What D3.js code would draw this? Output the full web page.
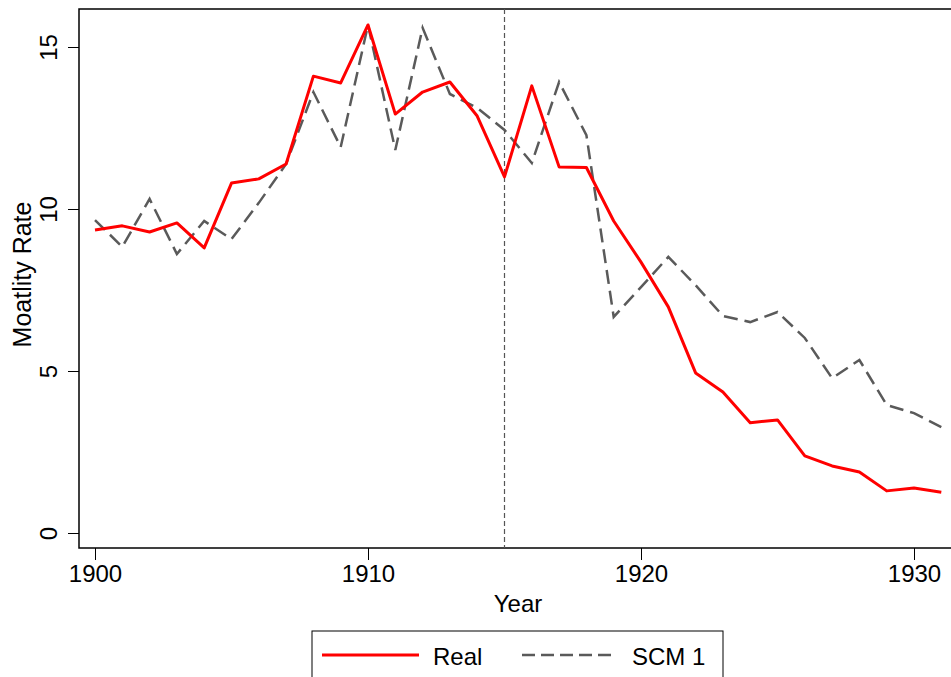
<!DOCTYPE html>
<html>
<head>
<meta charset="utf-8">
<script src="https://cdn.jsdelivr.net/npm/d3@7"></script>
<style>
  html, body { margin: 0; padding: 0; background: #fff; }
  svg { display: block; font-family: "Liberation Sans", Arial, sans-serif; }
</style>
</head>
<body>
<svg id="chart" width="951" height="677"></svg>
<script>
// Years covered by both series
const years = d3.range(1900, 1932);

// Observed mortality rate
const realValues = [
  9.35, 9.48, 9.29, 9.57, 8.80, 10.80, 10.93, 11.39, 14.10, 13.89,
  15.68, 12.93, 13.61, 13.92, 12.87, 10.99, 13.80, 11.30, 11.28, 9.63,
  8.36, 6.98, 4.94, 4.35, 3.40, 3.49, 2.38, 2.07, 1.88, 1.30,
  1.39, 1.26
];

// Synthetic control estimate
const scmValues = [
  9.66, 8.83, 10.31, 8.61, 9.63, 9.07, 10.19, 11.39, 13.61, 11.91,
  15.68, 11.82, 15.59, 13.55, 13.12, 12.44, 11.42, 13.92, 12.28, 6.67,
  7.59, 8.52, 7.65, 6.70, 6.51, 6.82, 6.02, 4.78, 5.34, 3.95,
  3.70, 3.27
];

const xTicks = [1900, 1910, 1920, 1930];
const yTicks = [0, 5, 10, 15];
const treatmentYear = 1915;
const seriesNames = ["Real", "SCM 1"];

const svg = d3.select("#chart");

const x = d3.scaleLinear().domain([1900, 1930]).range([95, 914]);
const y = d3.scaleLinear().domain([0, 15]).range([533, 47]);

const plotLeft = 79, plotTop = 9, plotBottom = 548, plotRight = 960;

svg.append("defs").append("clipPath").attr("id", "plotClip")
  .append("rect")
  .attr("x", plotLeft).attr("y", plotTop)
  .attr("width", plotRight - plotLeft).attr("height", plotBottom - plotTop);

// Axes
const xAxis = d3.axisBottom(x).tickValues(xTicks).tickFormat(d3.format("d"))
  .tickSize(12).tickPadding(5);
const gx = svg.append("g").attr("transform", `translate(0,${plotBottom})`).call(xAxis);
gx.select(".domain").remove();
gx.selectAll(".tick line").attr("stroke", "#000").attr("stroke-width", 1);
gx.selectAll(".tick text").attr("font-size", 24).attr("fill", "#000")
  .attr("font-family", "Liberation Sans, Arial, sans-serif");

const yAxis = d3.axisLeft(y).tickValues(yTicks).tickFormat(d3.format("d"))
  .tickSize(11).tickPadding(0);
const gy = svg.append("g").attr("transform", `translate(${plotLeft},0)`).call(yAxis);
gy.select(".domain").remove();
gy.selectAll(".tick line").attr("stroke", "#000").attr("stroke-width", 1);
gy.selectAll(".tick text")
  .attr("font-size", 24).attr("fill", "#000")
  .attr("font-family", "Liberation Sans, Arial, sans-serif")
  .attr("x", null).attr("dy", null)
  .attr("text-anchor", "middle")
  .attr("transform", "translate(-22,0) rotate(-90)");

// Frame
svg.append("rect")
  .attr("x", plotLeft).attr("y", plotTop)
  .attr("width", plotRight - plotLeft).attr("height", plotBottom - plotTop)
  .attr("fill", "none").attr("stroke", "#000").attr("stroke-width", 1.5);

// Treatment year marker
svg.append("line")
  .attr("x1", x(treatmentYear)).attr("x2", x(treatmentYear))
  .attr("y1", plotTop).attr("y2", plotBottom)
  .attr("stroke", "#555").attr("stroke-width", 1.2)
  .attr("stroke-dasharray", "5,3");

// Series
const line = d3.line().x((d, i) => x(years[i])).y(d => y(d));
const plot = svg.append("g").attr("clip-path", "url(#plotClip)");

plot.append("path").datum(scmValues)
  .attr("d", line).attr("fill", "none")
  .attr("stroke", "#5a5a5a").attr("stroke-width", 2.5)
  .attr("stroke-dasharray", "14,7");

plot.append("path").datum(realValues)
  .attr("d", line).attr("fill", "none")
  .attr("stroke", "#ff0000").attr("stroke-width", 3)
  .attr("stroke-linejoin", "round");

// Axis titles
svg.append("text")
  .attr("x", 518).attr("y", 612)
  .attr("text-anchor", "middle").attr("font-size", 24).attr("fill", "#000")
  .text("Year");

svg.append("text")
  .attr("transform", `translate(31,${(plotTop + plotBottom) / 2 - 4}) rotate(-90)`)
  .attr("text-anchor", "middle").attr("font-size", 25).attr("fill", "#000")
  .text("Moatlity Rate");

// Legend
const legend = svg.append("g");
legend.append("rect")
  .attr("x", 312).attr("y", 631).attr("width", 411).attr("height", 60)
  .attr("fill", "#fff").attr("stroke", "#000").attr("stroke-width", 1);

legend.append("line")
  .attr("x1", 322).attr("x2", 419).attr("y1", 655).attr("y2", 655)
  .attr("stroke", "#ff0000").attr("stroke-width", 3);
legend.append("text")
  .attr("x", 433).attr("y", 665).attr("font-size", 24).attr("fill", "#000")
  .text(seriesNames[0]);

legend.append("line")
  .attr("x1", 522).attr("x2", 614).attr("y1", 655).attr("y2", 655)
  .attr("stroke", "#5a5a5a").attr("stroke-width", 2.5)
  .attr("stroke-dasharray", "13,6");
legend.append("text")
  .attr("x", 632).attr("y", 665).attr("font-size", 24).attr("fill", "#000")
  .text(seriesNames[1]);
</script>
</body>
</html>
